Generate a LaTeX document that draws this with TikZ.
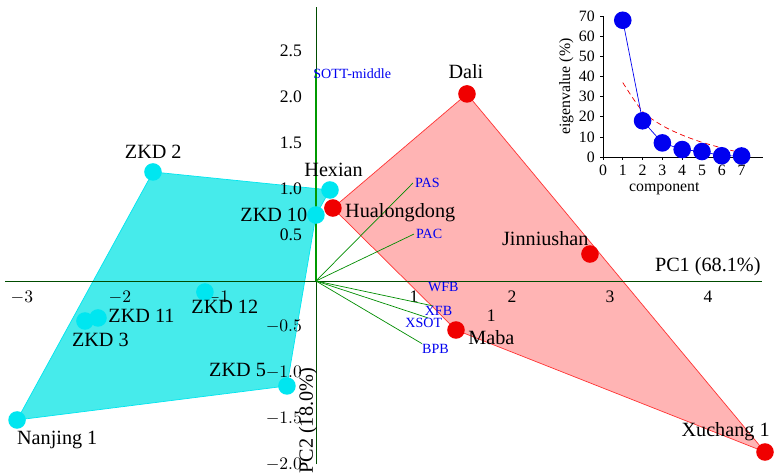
\documentclass[tikz,border=0pt]{standalone}
\usepackage{fontspec}
\setmainfont{Liberation Serif}
\usepackage{tikz}

\definecolor{aqua}{RGB}{0,230,240}
\definecolor{aquafill}{RGB}{70,235,235}
\definecolor{ptred}{RGB}{240,0,0}
\definecolor{redfill}{RGB}{255,180,180}
\definecolor{ptblue}{RGB}{0,0,240}
\tikzset{
  cyanpt/.style={circle,fill=aqua,inner sep=0pt,minimum size=10pt},
  redpt/.style={circle,fill=ptred,inner sep=0pt,minimum size=10pt},
  site/.style={font=\fontsize{11.5}{13}\selectfont},
  tick/.style={font=\fontsize{10}{12}\selectfont},
  small/.style={font=\fontsize{9}{11}\selectfont},
  var/.style={font=\fontsize{8}{10}\selectfont,text=ptblue,inner sep=1pt},
  load/.style={green!55!black,thin},
}

\begin{document}
\begin{tikzpicture}[x=1.96cm,y=1.84cm]
\useasboundingbox (-3.224,-2.087) rectangle (4.684,3.054);

% cyan group
\coordinate (zkd2) at (-1.663,1.185);
\coordinate (hexian) at (0.143,0.989);
\coordinate (zkd10) at (0,0.717);
\coordinate (zkd12) at (-1.133,-0.12);
\coordinate (zkd11) at (-2.224,-0.402);
\coordinate (zkd3) at (-2.357,-0.435);
\coordinate (zkd5) at (-0.296,-1.141);
\coordinate (nanjing) at (-3.05,-1.511);
\fill[aquafill,draw=aqua] (nanjing) -- (zkd2) -- (hexian) -- (zkd10) -- (zkd5) -- cycle;

% red group
\coordinate (dali) at (1.541,2.033);
\coordinate (hualong) at (0.173,0.793);
\coordinate (jinniu) at (2.796,0.293);
\coordinate (maba) at (1.429,-0.533);
\coordinate (xuchang) at (4.582,-1.859);
\fill[redfill,draw=red!80] (dali) -- (hualong) -- (maba) -- (xuchang) -- cycle;

% axes
\draw[green!30!black,thin] (-3.17,0) -- (4.55,0);
\draw[green!30!black,thin] (0,-1.99) -- (0,2.98);
\foreach \x/\l in {-3/$-3$,-2/$-2$,-1/$-1$,1/1,2/2,3/3,4/4}
  \node[tick,below] at (\x,-0.04) {\l};
\foreach \y/\l in {2.5/2.5,2.0/2.0,1.5/1.5,1.0/1.0,0.5/0.5,-0.5/$-0.5$,-1.0/$-1.0$,-1.5/$-1.5$,-2.0/$-2.0$}
  \node[tick,left] at (-0.08,\y) {\l};
\node[site,anchor=east] at (4.6,0.16) {PC1 (68.1\%)};
\node[site,rotate=90] at (-0.08,-1.52) {PC2 (18.0\%)};

% loadings
\coordinate (o) at (0,0);
\draw[load] (o) -- (0.99,1.065) node (pas) [var,right] {PAS};
\draw[load] (o) -- (1.0,0.51) node (pac) [var,right] {PAC};
\draw[load] (o) -- (1.19,-0.27);
\draw[load] (o) -- (1.14,-0.40);
\draw[load] (o) -- (1.08,-0.68);
\draw[load,green!60!black,thick] (o) -- (0,2.3);
\node[var] (sott) at (0.37,2.25) {SOTT-middle};
\node[var] (wfb) at (1.30,-0.07) {WFB};
\node[var] (xfb) at (1.25,-0.33) {XFB};
\node[var] (xsot) at (1.10,-0.46) {XSOT};
\node[var] (bpb) at (1.22,-0.74) {BPB};
\node[tick] (one) at (1.79,-0.38) {1};

% points
\foreach \p in {zkd2,hexian,zkd10,zkd12,zkd11,zkd3,zkd5,nanjing}
  \node[cyanpt] at (\p) {};
\foreach \p in {dali,hualong,jinniu,maba,xuchang}
  \node[redpt] at (\p) {};
\node[site] at (-1.66,1.40) {ZKD 2};
\node[site] at (0.18,1.21) {Hexian};
\node[site] at (-0.43,0.72) {ZKD 10};
\node[site] at (-0.93,-0.28) {ZKD 12};
\node[site] at (-1.78,-0.38) {ZKD 11};
\node[site] at (-2.2,-0.64) {ZKD 3};
\node[site] at (-0.80,-0.97) {ZKD 5};
\node[site] at (-2.64,-1.73) {Nanjing 1};
\node[site] at (1.53,2.28) {Dali};
\node[site] at (0.86,0.74) {Hualongdong};
\node[site] at (2.34,0.46) {Jinniushan};
\node[site] at (1.79,-0.61) {Maba};
\node[site] at (4.18,-1.64) {Xuchang 1};

% scree inset
\begin{scope}[shift={(5.74cm,2.48cm)},x=0.396cm,y=0.0402cm]
\draw[thin] (0,0) -- (8.1,0);
\draw[thin] (0,0) -- (0,70);
\foreach \x in {0,...,7} {
  \draw (\x,0) -- (\x,-1.5);
  \node[small,below] at (\x,-1) {\x};
}
\foreach \y in {0,10,...,70} {
  \draw (0,\y) -- (-0.15,\y);
  \node[small,left] at (-0.1,\y) {\y};
}
\node[small,rotate=90] at (-1.85,35) {eigenvalue (\%)};
\node[small] at (3.1,-16) {component};
\draw[ptred,densely dashed,thin] plot[smooth] coordinates {(1,37.0) (2,22.7) (3,15.6) (4,10.9) (5,7.3) (6,4.5) (7,2.0)};
\draw[ptblue,thin] (1,68) -- (2,18) -- (3,7) -- (4,3.7) -- (5,2.7) -- (6,0.6) -- (7,0.5);
\foreach \x/\y in {1/68,2/18,3/7,4/3.7,5/2.7,6/0.6,7/0.5}
  \fill[ptblue] (\x,\y) circle (5pt);
\end{scope}
\end{tikzpicture}
\end{document}
